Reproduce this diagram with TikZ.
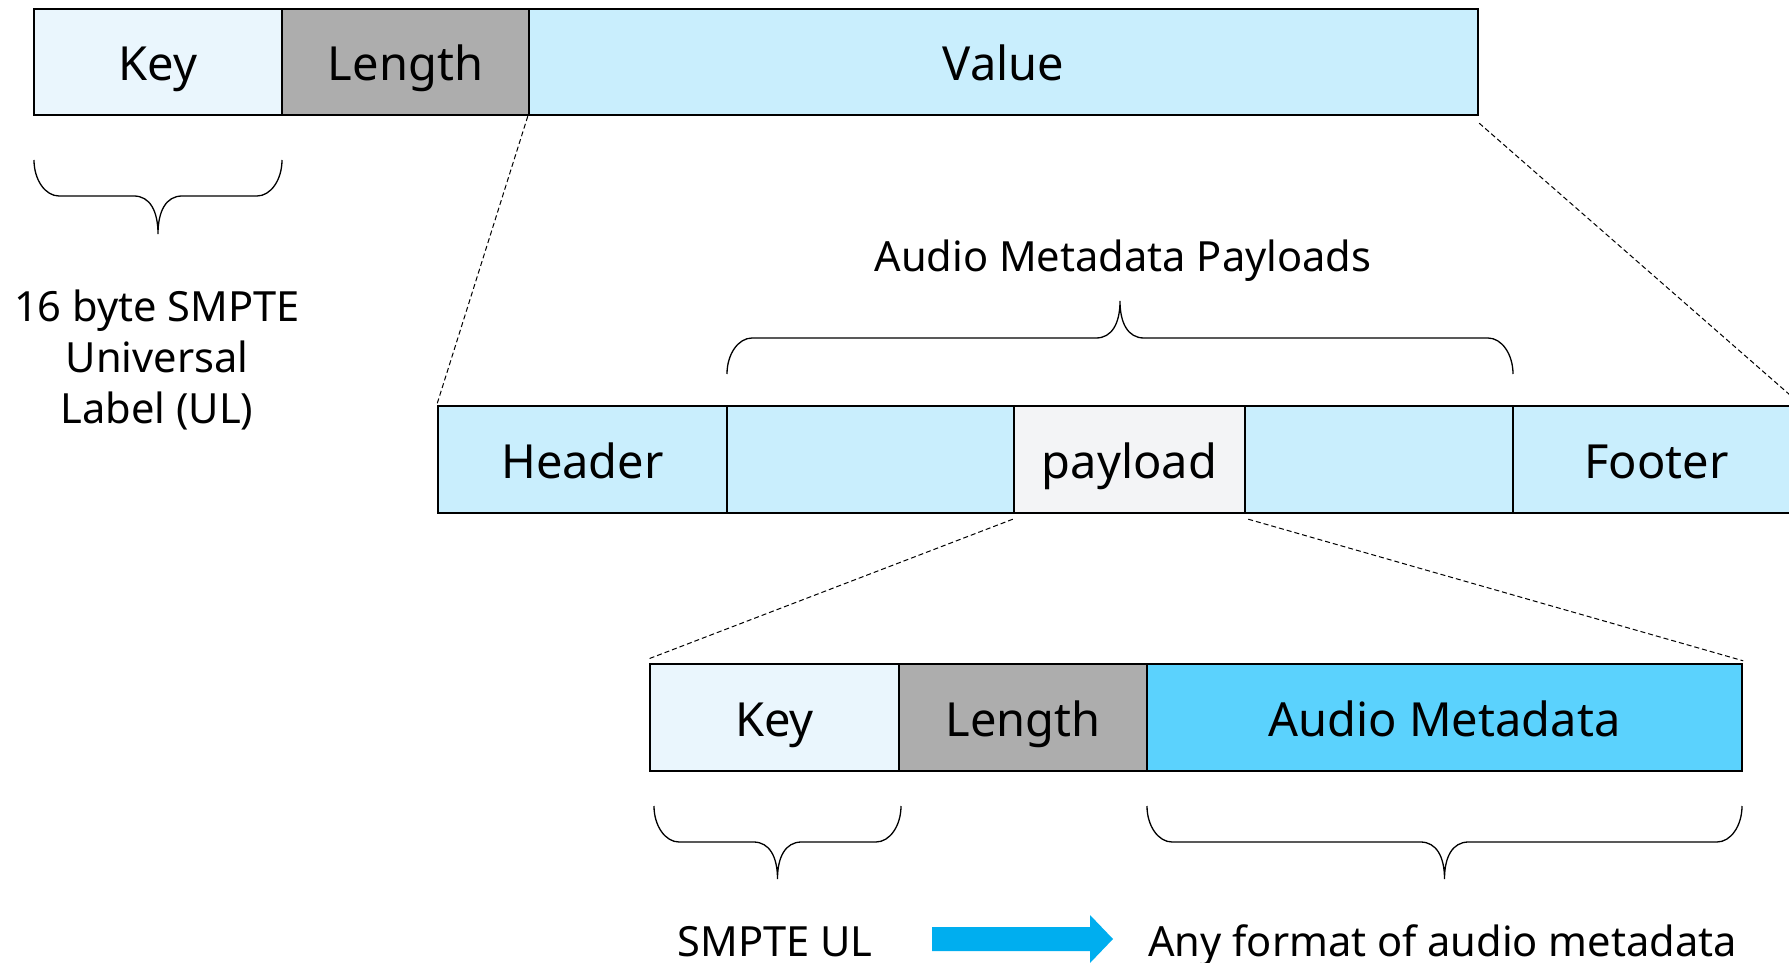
\documentclass[tikz,border=0pt]{standalone}
\usepackage{fontspec}
\setmainfont{Noto Sans}
\begin{document}
\begin{tikzpicture}[x=1pt,y=-1pt]
\definecolor{keyfill}{HTML}{EAF6FD}
\definecolor{lenfill}{HTML}{ADADAD}
\definecolor{valfill}{HTML}{C9EEFD}
\definecolor{payfill}{HTML}{F3F4F6}
\definecolor{amfill}{HTML}{5BD2FD}
\definecolor{arrowblue}{HTML}{00AEEF}
\tikzset{
  cell/.style={draw=black, line width=2.4pt, inner sep=0pt, font=\fontsize{47}{51}\selectfont, text height=42pt, text depth=4pt},
  zoomline/.style={dashed, dash pattern=on 5pt off 3pt, line width=1pt},
  bracepath/.style={line width=1.3pt},
  label/.style={font=\fontsize{41.6}{51}\selectfont, align=center, inner sep=0pt},
}
% curly brace: #1 left x, #2 right x, #3 free ends y, #4 bar y, #5 tip y
\newcommand\curlybrace[5]{%
  \draw[bracepath] (#1,#3) .. controls (#1,{#3+0.55*(#4-#3)}) and ({#1+0.45*25},#4) .. ({#1+25},#4)
    -- ({(#1+#2)/2-24},#4) .. controls ({(#1+#2)/2-8},#4) and ({(#1+#2)/2},{#4+0.4*(#5-#4)}) .. ({(#1+#2)/2},#5)
    .. controls ({(#1+#2)/2},{#4+0.4*(#5-#4)}) and ({(#1+#2)/2+8},#4) .. ({(#1+#2)/2+24},#4)
    -- ({#2-25},#4) .. controls ({#2-0.45*25},#4) and (#2,{#3+0.55*(#4-#3)}) .. (#2,#3);}
\useasboundingbox (0,0) rectangle (1789,963);

% top KLV packet
\node[cell, fill=keyfill, minimum width=248, minimum height=106] (k1) at (158,62) {Key};
\node[cell, fill=lenfill, minimum width=247, minimum height=106] (l1) at (405.5,62) {Length};
\node[cell, fill=valfill, minimum width=949, minimum height=106] (v1) at (1003.5,62) {Value};

% value broken into header, payloads and footer
\node[cell, fill=valfill, minimum width=289, minimum height=107] (hdr) at (582.5,459.5) {Header};
\node[cell, fill=valfill, minimum width=287, minimum height=107] (p1) at (870.5,459.5) {};
\node[cell, fill=payfill, minimum width=231, minimum height=107] (pay) at (1129.5,459.5) {payload};
\node[cell, fill=valfill, minimum width=268, minimum height=107] (p3) at (1379,459.5) {};
\node[cell, fill=valfill, minimum width=287, minimum height=107] (ftr) at (1656.5,459.5) {Footer};

% inner KLV of one payload
\node[cell, fill=keyfill, minimum width=249, minimum height=107] (k2) at (774.5,717.5) {Key};
\node[cell, fill=lenfill, minimum width=248, minimum height=107] (l2) at (1023,717.5) {Length};
\node[cell, fill=amfill, minimum width=595, minimum height=107] (am) at (1444.5,717.5) {Audio Metadata};

% zoom lines
\draw[zoomline] (v1.south west) -- (hdr.north west);
\draw[zoomline] ([yshift=-7pt]v1.south east) -- (ftr.north east);
\draw[zoomline] ([yshift=-5pt]pay.south west) -- ([yshift=4pt]k2.north west);
\draw[zoomline] ([shift={(2pt,-5pt)}]pay.south east) -- ([yshift=2pt]am.north east);

% braces and their labels
\curlybrace{34}{282}{160}{196}{234}
\node[label] (ul) at (157,360) {16 byte SMPTE\\Universal\\Label (UL)};

\curlybrace{727}{1513}{374}{338}{301}
\node[label] (amp) at (1123,261) {Audio Metadata Payloads};

\curlybrace{654}{901}{806}{842}{879}
\curlybrace{1147}{1742}{806}{842}{879}

\node[label, anchor=base] (smpte) at (775,956) {SMPTE UL};
\node[label, anchor=base west] (anyf) at (1148,956) {Any format of audio metadata};

% mapping arrow
\coordinate (ar) at (932,939);
\fill[arrowblue] (ar) ++(0,-12) -- ++(158,0) -- ++(0,-12) -- ++(23,24) -- ++(-23,24) -- ++(0,-12) -- ++(-158,0) -- cycle;
\end{tikzpicture}
\end{document}
